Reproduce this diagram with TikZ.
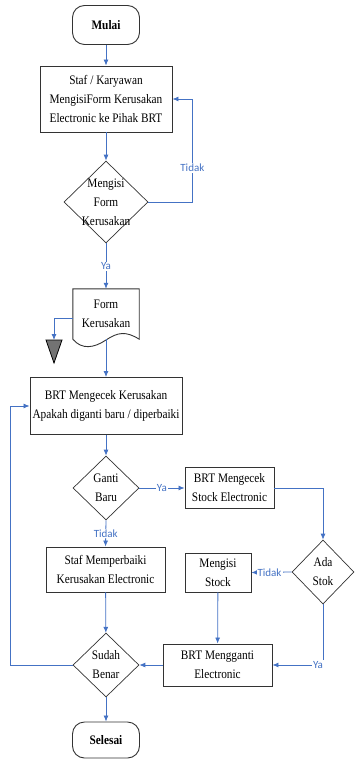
\documentclass[tikz,border=0pt]{standalone}
\usepackage{fontspec}
\setmainfont[FakeStretch=0.87]{Liberation Serif}
\newfontfamily\lblfont{Carlito}
\usetikzlibrary{positioning,shapes.geometric,arrows.meta,calc}

\definecolor{alurbiru}{RGB}{68,114,196}
\tikzset{
  teks/.style={align=center, font=\fontsize{13}{19}\selectfont},
  proses/.style={teks, draw=black!80, line width=0.9pt, inner sep=1pt},
  terminal/.style={proses, rounded corners=12pt, minimum width=67pt, minimum height=39pt, font=\fontsize{13}{19}\selectfont\bfseries},
  keputusan/.style={diamond, draw=black!80, line width=0.7pt, inner sep=0pt},
  garis/.style={draw=alurbiru, line width=0.8pt},
  alur/.style={garis, -{Latex[length=6pt,width=5pt]}},
  ket/.style={fill=white, text=alurbiru, inner sep=1pt, font=\lblfont\fontsize{11}{12}\selectfont},
}

\begin{document}
\begin{tikzpicture}[x=1pt, y=-1pt]
        \useasboundingbox (0,0) rectangle (354,759);

        % Mulai dan isi form
        \node[terminal] (mulai) at (106,25) {Mulai};
        \node[proses, minimum width=132pt, minimum height=66pt] (isiform) at (106,99)
            {Staf / Karyawan\\MengisiForm Kerusakan\\Electronic ke Pihak BRT};
        \node[keputusan, minimum width=84pt, minimum height=82pt,
            label={[teks]center:{Mengisi\\Form\\Kerusakan}}] (cekisi) at (106,202) {};

        % dokumen form kerusakan
        \node[teks, minimum width=66pt, minimum height=50pt] (form) at (106,314) {Form\\Kerusakan};
        \draw[draw=black!80, line width=0.9pt] (form.south west) -- (form.north west) -- (form.north east) -- (form.south east)
            .. controls (126,331) and (118,332) .. (106,340)
            .. controls (94,348) and (82,350) .. (form.south west);
        \coordinate (offp) at (54,340);
        \draw[fill=black!55, draw=black, line width=0.8pt] (offp) ++(-8,0) -- ++(16,0) -- ++(-8,23) -- cycle;

        % cek kerusakan dan keputusan ganti
        \node[proses, minimum width=152pt, minimum height=57pt] (cekrusak) at (106,406)
            {BRT Mengecek Kerusakan\\Apakah diganti baru / diperbaiki};
        \node[keputusan, minimum width=66pt, minimum height=64pt,
            label={[teks]center:{Ganti\\Baru}}] (gantibaru) at (106,488) {};
        \node[proses, minimum width=89pt, minimum height=41pt] (cekstok) at (229.5,488)
            {BRT Mengecek\\Stock Electronic};
        \node[keputusan, minimum width=62pt, minimum height=64pt,
            label={[teks]center:{Ada\\Stok}}] (adastok) at (323,572) {};
        \node[proses, minimum width=66pt, minimum height=39pt] (isistok) at (218,572.5) {Mengisi\\Stock};
        \node[proses, minimum width=119pt, minimum height=45pt] (perbaiki) at (105.5,569.5)
            {Staf Memperbaiki\\Kerusakan Electronic};
        \node[proses, minimum width=109pt, minimum height=42pt] (gantibrg) at (217.5,665)
            {BRT Mengganti\\Electronic};
        \node[keputusan, minimum width=66pt, minimum height=64pt,
            label={[teks]center:{Sudah\\Benar}}] (sudah) at (106,665) {};
        \node[terminal, minimum height=36pt] (selesai) at (106,740) {Selesai};

        % alur utama
        \draw[alur] (mulai) -- (isiform);
        \draw[alur] (isiform) -- (cekisi);
        \draw[alur] (cekisi.east) -- ++(44,0) coordinate (tdk1) |- (isiform.east);
        \node[ket] at (tdk1 |- 0,168) {Tidak};
        \draw[alur] (cekisi.south) -- node[ket] {Ya} (form.north);
        \draw[alur] ($(form.west)+(0,4)$) -| (offp);
        \draw[alur] (form.south) -- (cekrusak.north);
        \draw[alur] (cekrusak) -- (gantibaru);
        \draw[alur] (gantibaru.east) -- node[ket] {Ya} (cekstok.west);
        \draw[alur] (gantibaru.south) -- node[ket] {Tidak} (perbaiki.north);
        \draw[alur] (cekstok.east) -| (adastok.north);
        \draw[alur] (adastok.west) -- node[ket, pos=0.55] {Tidak} (isistok.east);
        \draw[alur] (adastok.south) |- coordinate[pos=0.5] (ya2) (gantibrg.east);
        \node[ket] at ($(ya2)+(-5,0)$) {Ya};
        \draw[alur] (isistok) -- (gantibrg);
        \draw[alur] (gantibrg) -- (sudah);
        \draw[alur] (perbaiki) -- (sudah);
        \draw[alur] (sudah.west) -- ++(-62,0) |- (cekrusak.west);
        \draw[alur] (sudah) -- (selesai);
    \end{tikzpicture}
\end{document}
